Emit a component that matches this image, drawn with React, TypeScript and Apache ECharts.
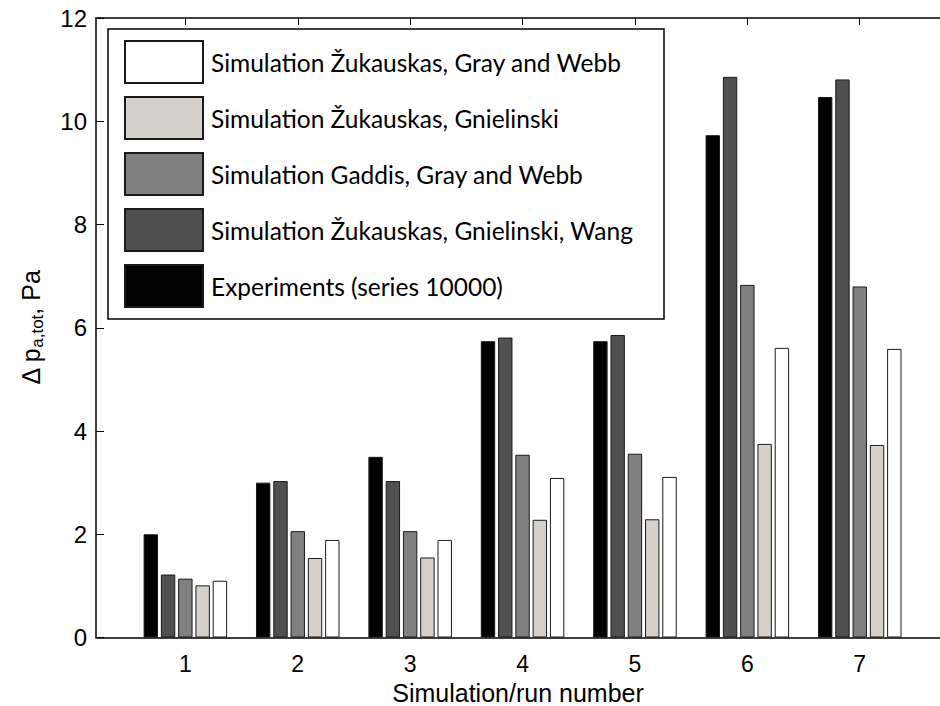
import React, { useEffect, useRef } from "react";
import * as echarts from "echarts";

const runNumbers = [1, 2, 3, 4, 5, 6, 7];
const experiments = [2.0, 3.0, 3.5, 5.74, 5.74, 9.73, 10.47];
const zukGnielWang = [1.22, 3.03, 3.03, 5.81, 5.86, 10.86, 10.81];
const gaddisGrayWebb = [1.14, 2.06, 2.06, 3.54, 3.56, 6.83, 6.8];
const zukGniel = [1.01, 1.54, 1.55, 2.28, 2.29, 3.75, 3.73];
const zukGrayWebb = [1.1, 1.89, 1.89, 3.09, 3.11, 5.61, 5.59];
const yTicks = [0, 2, 4, 6, 8, 10, 12];

const seriesDefs = [
  { name: "Experiments (series 10000)", data: experiments, color: "#000000" },
  { name: "Simulation Žukauskas, Gnielinski, Wang", data: zukGnielWang, color: "#505050" },
  { name: "Simulation Gaddis, Gray and Webb", data: gaddisGrayWebb, color: "#808080" },
  { name: "Simulation Žukauskas, Gnielinski", data: zukGniel, color: "#d5d1ca" },
  { name: "Simulation Žukauskas, Gray and Webb", data: zukGrayWebb, color: "#ffffff" },
];
const legendOrder = [
  "Simulation Žukauskas, Gray and Webb",
  "Simulation Žukauskas, Gnielinski",
  "Simulation Gaddis, Gray and Webb",
  "Simulation Žukauskas, Gnielinski, Wang",
  "Experiments (series 10000)",
];

const LEGEND_FONT = "Lato";
const LEGEND_SIZE = 24.5;
const AX_FONT = "Liberation Sans, Arial, sans-serif";

export default function App() {
  const ref = useRef<HTMLDivElement>(null);
  useEffect(() => {
    if (!ref.current) return;
    const chart = echarts.init(ref.current, undefined, { renderer: "svg" });

    const ctx = document.createElement("canvas").getContext("2d");
    let maxW = 422;
    if (ctx) {
      ctx.font = `${LEGEND_SIZE}px ${LEGEND_FONT}`;
      maxW = Math.max(...legendOrder.map((t) => ctx.measureText(t).width));
    }
    const padRight = Math.max(4, 555 - 16 - 78 - 8 - maxW);

    const xMin = 0.205;
    const xMax = 7.714;

    chart.setOption({
      animation: false,
      backgroundColor: "#ffffff",
      grid: { left: 96, right: 0, top: 18, bottom: 68.5, containLabel: false, outerBoundsMode: "none" },
      xAxis: [
        {
          type: "value",
          min: xMin,
          max: xMax,
          position: "bottom",
          name: "Simulation/run number",
          nameLocation: "middle",
          nameGap: 40,
          nameTextStyle: { fontFamily: AX_FONT, fontSize: 25, color: "#000" },
          axisLine: { show: true, onZero: false, lineStyle: { color: "#000", width: 1.5 } },
          axisTick: { show: true, inside: true, length: 7, customValues: runNumbers, lineStyle: { color: "#000", width: 1 } },
          axisLabel: { show: true, customValues: runNumbers, margin: 15, fontFamily: AX_FONT, fontSize: 23, color: "#000" },
          splitLine: { show: false },
        },
        {
          type: "value",
          min: xMin,
          max: xMax,
          position: "top",
          axisLine: { show: true, onZero: false, lineStyle: { color: "#000", width: 1.5 } },
          axisTick: { show: true, inside: true, length: 7, customValues: runNumbers, lineStyle: { color: "#000", width: 1 } },
          axisLabel: { show: false },
          splitLine: { show: false },
        },
      ],
      yAxis: {
        type: "value",
        min: 0,
        max: 12,
        interval: 2,
        name: "{m|Δ p}{s|a,tot}{m|, Pa}",
        nameLocation: "middle",
        nameGap: 50,
        nameRotate: 90,
        nameTextStyle: {
          rich: {
            m: { fontFamily: AX_FONT, fontSize: 25, color: "#000", lineHeight: 30 },
            s: { fontFamily: AX_FONT, fontSize: 17, color: "#000", verticalAlign: "bottom", lineHeight: 17 },
          },
        },
        axisLine: { show: true, lineStyle: { color: "#000", width: 1.5 } },
        axisTick: { show: true, inside: true, length: 8, lineStyle: { color: "#000", width: 1 } },
        axisLabel: {
          margin: 9,
          fontFamily: AX_FONT,
          fontSize: 24,
          color: "#000",
          formatter: (v: number) => (yTicks.includes(v) ? String(v) : ""),
        },
        splitLine: { show: false },
      },
      legend: {
        data: legendOrder,
        orient: "vertical",
        left: 108,
        top: 29,
        itemWidth: 78,
        itemHeight: 42,
        itemGap: 12,
        icon: "rect",
        padding: [11, padRight, 11, 16],
        backgroundColor: "#ffffff",
        borderColor: "#000",
        borderWidth: 1.5,
        selectedMode: false,
        textStyle: { fontFamily: LEGEND_FONT, fontSize: LEGEND_SIZE, color: "#000", padding: [0, 0, 0, 3] },
      },
      series: seriesDefs.map((s) => ({
        name: s.name,
        type: "bar",
        xAxisIndex: 0,
        barWidth: 14.4,
        barGap: "20%",
        data: runNumbers.map((r, i) => [r, s.data[i]]),
        itemStyle: { color: s.color, borderColor: "#1a1a1a", borderWidth: 1 },
        emphasis: { disabled: true },
      })),
    });
    return () => chart.dispose();
  }, []);
  return (
    <div
      ref={ref}
      style={{ position: "fixed", left: 0, top: 0, width: 940, height: 706, background: "#fff" }}
    />
  );
}
